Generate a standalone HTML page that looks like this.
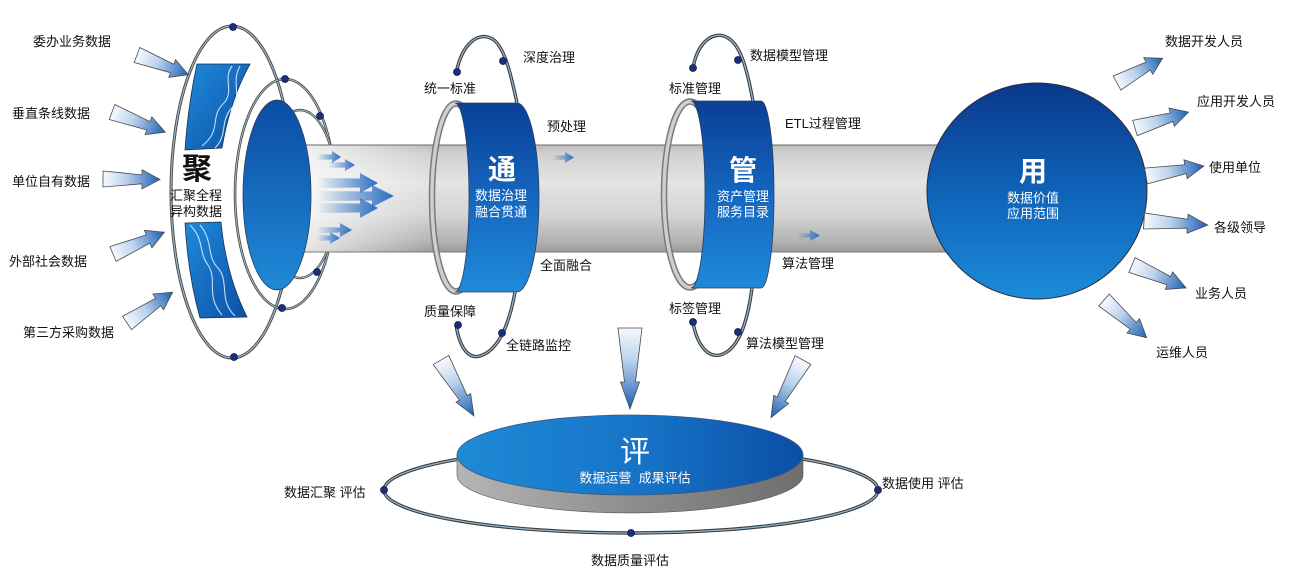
<!DOCTYPE html>
<html><head><meta charset="utf-8">
<style>
html,body{margin:0;padding:0;background:#fff;}
svg{display:block;}
.l{font-family:"Liberation Sans","Noto Sans CJK SC",sans-serif;font-size:13px;fill:#111;}
.w{font-family:"Liberation Sans","Noto Sans CJK SC",sans-serif;fill:#fff;text-anchor:middle;}
</style></head>
<body>
<svg width="1314" height="576" viewBox="0 0 1314 576" xmlns="http://www.w3.org/2000/svg">
<defs>
  <linearGradient id="pipe" x1="0" y1="0" x2="0" y2="1">
    <stop offset="0" stop-color="#bcbcbc"/>
    <stop offset="0.08" stop-color="#d0d0d0"/>
    <stop offset="0.35" stop-color="#e4e4e4"/>
    <stop offset="0.65" stop-color="#d5d5d5"/>
    <stop offset="0.9" stop-color="#b2b2b2"/>
    <stop offset="1" stop-color="#9a9a9a"/>
  </linearGradient>
  <linearGradient id="pipefade" x1="0" y1="0" x2="1" y2="0">
    <stop offset="0" stop-color="#fff" stop-opacity="0.75"/>
    <stop offset="1" stop-color="#fff" stop-opacity="0"/>
  </linearGradient>
  <linearGradient id="band" x1="0" y1="0" x2="0" y2="1">
    <stop offset="0" stop-color="#0b3f96"/>
    <stop offset="0.5" stop-color="#1566bf"/>
    <stop offset="1" stop-color="#1f8ad8"/>
  </linearGradient>
  <linearGradient id="disc" x1="0" y1="0" x2="0" y2="1">
    <stop offset="0" stop-color="#0c4ca4"/>
    <stop offset="1" stop-color="#1f8ad8"/>
  </linearGradient>
  <linearGradient id="ball" x1="0" y1="0" x2="0" y2="1">
    <stop offset="0" stop-color="#0a388a"/>
    <stop offset="0.5" stop-color="#0f62b8"/>
    <stop offset="1" stop-color="#1b8cd8"/>
  </linearGradient>
  <linearGradient id="evtop" x1="0" y1="0" x2="1" y2="0">
    <stop offset="0" stop-color="#1f8ad6"/>
    <stop offset="0.55" stop-color="#1673c6"/>
    <stop offset="1" stop-color="#0b4ea6"/>
  </linearGradient>
  <linearGradient id="evside" x1="0" y1="0" x2="1" y2="0">
    <stop offset="0" stop-color="#b5b5b5"/>
    <stop offset="0.5" stop-color="#8e8e8e"/>
    <stop offset="1" stop-color="#6e6e6e"/>
  </linearGradient>
  <linearGradient id="panel" x1="0" y1="0" x2="1" y2="1">
    <stop offset="0" stop-color="#1f8ad8"/>
    <stop offset="1" stop-color="#0c50a8"/>
  </linearGradient>
  <linearGradient id="arr" x1="0" y1="0" x2="1" y2="0">
    <stop offset="0" stop-color="#f6f9fd"/>
    <stop offset="0.4" stop-color="#bcd3ec"/>
    <stop offset="1" stop-color="#1c5fb6"/>
  </linearGradient>
  <linearGradient id="parr" x1="0" y1="0" x2="1" y2="0">
    <stop offset="0" stop-color="#3a7bc8" stop-opacity="0"/>
    <stop offset="1" stop-color="#2a6cc0"/>
  </linearGradient>
  <path id="a1" d="M0,-8 L39,-4.5 L39,-9.5 L57,0 L39,9.5 L39,4.5 L0,8 Z"/>
</defs>

<!-- left orbit ellipses -->
<g fill="none">
  <ellipse cx="232" cy="192" rx="61" ry="166" stroke="#444" stroke-width="3"/>
  <ellipse cx="232" cy="192" rx="61" ry="166" stroke="#9db6c9" stroke-width="1.2"/>
  <ellipse cx="285" cy="194" rx="50" ry="115" stroke="#444" stroke-width="2.6"/>
  <ellipse cx="285" cy="194" rx="50" ry="115" stroke="#a8bccc" stroke-width="1"/>
  <ellipse cx="300" cy="194" rx="37" ry="84" stroke="#444" stroke-width="2.4"/>
  <ellipse cx="300" cy="194" rx="37" ry="84" stroke="#a8bccc" stroke-width="1"/>
</g>

<!-- pipe -->
<rect x="303" y="145" width="645" height="107" fill="url(#pipe)"/>
<rect x="303" y="145" width="130" height="107" fill="url(#pipefade)"/>
<line x1="303" y1="145" x2="948" y2="145" stroke="#6a6a6a" stroke-width="1"/>
<line x1="303" y1="252" x2="948" y2="252" stroke="#7a7a7a" stroke-width="1"/>

<!-- orbit dots left -->
<g fill="#1a2f7a" stroke="#0d1a4a" stroke-width="0.8">
  <circle cx="233" cy="27" r="3.5"/>
  <circle cx="285" cy="79" r="3.5"/>
  <circle cx="320" cy="116" r="3.5"/>
  <circle cx="317" cy="272" r="3.5"/>
  <circle cx="282" cy="308" r="3.5"/>
  <circle cx="234" cy="357" r="3.5"/>
</g>

<!-- blue disc -->
<ellipse cx="277" cy="195" rx="34" ry="95" fill="url(#disc)" stroke="#2b3b55" stroke-width="0.8"/>

<!-- pipe arrows -->
<g fill="url(#parr)">
  <path d="M317,154 L332,154.5 L332,151 L341,157 L332,163 L332,159.5 L317,160 Z"/>
  <path d="M328,162 L345,162.5 L345,159 L355,165 L345,171 L345,167.5 L328,168 Z"/>
  <path d="M317,178 L360,178.5 L360,173 L378,183 L360,193 L360,187.5 L317,188 Z"/>
  <path d="M317,191 L372,191.5 L372,185 L394,196 L372,207 L372,200.5 L317,201 Z"/>
  <path d="M317,203 L360,203.5 L360,198 L378,208 L360,218 L360,212.5 L317,213 Z"/>
  <path d="M317,227 L340,227.5 L340,223 L352,230 L340,237 L340,232.5 L317,233 Z"/>
  <path d="M317,235 L330,235.5 L330,232 L340,238 L330,244 L330,240.5 L317,241 Z"/>
  <path d="M552,155 L565,155.5 L565,152 L574,157.5 L565,163 L565,159.5 L552,160 Z"/>
  <path d="M797,233 L810,233.5 L810,230 L820,235.5 L810,241 L810,237.5 L797,238 Z"/>
</g>

<!-- left panels -->
<path d="M197,64 L250,64 Q230,100 222,148 L185,150 Q188,105 197,64 Z" fill="url(#panel)" stroke="#1a3050" stroke-width="0.8"/>
<path d="M185,223 L221,222 Q226,275 247,317 L200,318 Q188,275 185,223 Z" fill="url(#panel)" stroke="#1a3050" stroke-width="0.8"/>
<g fill="none" stroke="#d6ecff" stroke-width="1.1" opacity="0.9">
  <path d="M232,66 C222,80 236,92 222,105 C210,118 222,130 202,146"/>
  <path d="M240,66 C230,84 244,96 230,110 C220,124 228,134 215,148"/>
  <path d="M190,225 C205,240 198,252 208,265 C218,280 205,295 222,315"/>
  <path d="M200,225 C214,242 206,256 218,268 C230,282 218,300 235,316"/>
</g>

<!-- 聚 text -->
<text x="197" y="179" font-family="Liberation Sans,'Noto Sans CJK SC',sans-serif" font-size="30" font-weight="bold" fill="#111" text-anchor="middle">聚</text>
<text x="196" y="200" class="l" text-anchor="middle">汇聚全程</text>
<text x="196" y="216" class="l" text-anchor="middle">异构数据</text>

<!-- 通 ring -->
<ellipse cx="456" cy="197.5" rx="24" ry="94" fill="none" stroke="#7a7a7a" stroke-width="6.5"/>
<ellipse cx="456" cy="197.5" rx="24" ry="94" fill="none" stroke="#cfcfcf" stroke-width="3.5"/>
<path d="M455,103 L517,103 A22,94.5 0 0 1 517,292 L455,292 A14,94.5 0 0 0 455,103 Z" fill="url(#band)" stroke="#26405f" stroke-width="0.8"/>
<text x="502" y="179" class="w" font-size="28" font-weight="bold">通</text>
<text x="501" y="200" class="w" font-size="13">数据治理</text>
<text x="501" y="216.5" class="w" font-size="13">融合贯通</text>

<!-- 管 ring -->
<ellipse cx="690" cy="194.5" rx="26" ry="93" fill="none" stroke="#7a7a7a" stroke-width="6.5"/>
<ellipse cx="690" cy="194.5" rx="26" ry="93" fill="none" stroke="#cfcfcf" stroke-width="3.5"/>
<path d="M691,101 L761,101 A13,93.5 0 0 1 761,288 L691,288 A14,93.5 0 0 0 691,101 Z" fill="url(#band)" stroke="#26405f" stroke-width="0.8"/>
<text x="743" y="180" class="w" font-size="28" font-weight="bold">管</text>
<text x="743" y="201" class="w" font-size="13">资产管理</text>
<text x="743" y="216.5" class="w" font-size="13">服务目录</text>

<!-- orbit arcs -->
<g fill="none">
  <g stroke="#3a3a3a" stroke-width="3.4">
    <path d="M456,74 C462,42 480,30 494,40 C506,50 512,80 517,103"/>
    <path d="M515,292 C510,320 500,350 480,356 C465,360 458,340 456,324"/>
    <path d="M693,68 C698,40 715,30 728,38 C742,46 748,75 753,101"/>
    <path d="M752,288 C748,318 740,350 720,355 C705,358 696,340 693,322"/>
  </g>
  <g stroke="#93b3ca" stroke-width="1.3">
    <path d="M456,74 C462,42 480,30 494,40 C506,50 512,80 517,103"/>
    <path d="M515,292 C510,320 500,350 480,356 C465,360 458,340 456,324"/>
    <path d="M693,68 C698,40 715,30 728,38 C742,46 748,75 753,101"/>
    <path d="M752,288 C748,318 740,350 720,355 C705,358 696,340 693,322"/>
  </g>
</g>
<g fill="#1a2f7a" stroke="#0d1a4a" stroke-width="0.8">
  <circle cx="457" cy="72" r="3.5"/>
  <circle cx="503" cy="61" r="3.5"/>
  <circle cx="458" cy="325" r="3.5"/>
  <circle cx="502" cy="333" r="3.5"/>
  <circle cx="693" cy="68" r="3.5"/>
  <circle cx="738" cy="60" r="3.5"/>
  <circle cx="693" cy="322" r="3.5"/>
  <circle cx="738" cy="332" r="3.5"/>
</g>

<!-- 用 ball -->
<ellipse cx="1037" cy="191" rx="110" ry="108" fill="url(#ball)" stroke="#2a2a3a" stroke-width="1"/>
<text x="1033" y="181" class="w" font-size="28" font-weight="bold">用</text>
<text x="1033" y="202.5" class="w" font-size="13">数据价值</text>
<text x="1033" y="218" class="w" font-size="13">应用范围</text>

<!-- side arrows -->
<g fill="url(#arr)" stroke="#4a4a4a" stroke-width="0.8">
  <use href="#a1" transform="translate(137,55) rotate(21) scale(0.965,1)"/>
  <use href="#a1" transform="translate(112,112) rotate(20.7)"/>
  <use href="#a1" transform="translate(103,179) rotate(0.5)"/>
  <use href="#a1" transform="translate(113,254) rotate(-23) scale(0.98,1)"/>
  <use href="#a1" transform="translate(127,323) rotate(-34) scale(0.965,1)"/>
  <use href="#a1" transform="translate(1117,83) rotate(-28.5) scale(0.91,1)"/>
  <use href="#a1" transform="translate(1135,128) rotate(-16.5) scale(0.98,1)"/>
  <use href="#a1" transform="translate(1146,176) rotate(-9.8) scale(1.03,1)"/>
  <use href="#a1" transform="translate(1144,221) rotate(3.6) scale(1.12,1)"/>
  <use href="#a1" transform="translate(1132,265) rotate(23) scale(1.03,1)"/>
  <use href="#a1" transform="translate(1104,300) rotate(41.5)"/>
  <path d="M0,-12 L54,-5.5 L54,-9.5 L81,0 L54,9.5 L54,5.5 L0,12 Z" transform="translate(630,328) rotate(90)"/>
  <path d="M0,-9 L44,-4.5 L44,-8.5 L65,0 L44,8.5 L44,4.5 L0,9 Z" transform="translate(441,360) rotate(59.5)"/>
  <path d="M0,-9 L45,-4.5 L45,-8.5 L66,0 L45,8.5 L45,4.5 L0,9 Z" transform="translate(803,360) rotate(119)"/>
</g>

<!-- 评 disc with orbit -->
<ellipse cx="631" cy="490" rx="247" ry="43" fill="none" stroke="#3a3a3a" stroke-width="3.4"/>
<ellipse cx="631" cy="490" rx="247" ry="43" fill="none" stroke="#93b3ca" stroke-width="1.3"/>
<path d="M457,455 L457,475 A173,38 0 0 0 803,475 L803,455 Z" fill="url(#evside)" stroke="#555" stroke-width="0.6"/>
<ellipse cx="630" cy="455" rx="173" ry="40" fill="url(#evtop)" stroke="#3a5a80" stroke-width="0.8"/>
<text x="635" y="462" class="w" font-size="30">评</text>
<text x="635" y="482.5" class="w" font-size="13">数据运营&#160;&#160;成果评估</text>
<g fill="#1a2f7a" stroke="#0d1a4a" stroke-width="0.8">
  <circle cx="384" cy="490" r="3.5"/>
  <circle cx="878" cy="490" r="3.5"/>
  <circle cx="631" cy="533" r="3.5"/>
</g>

<!-- labels -->
<g class="l">
  <text x="33" y="46">委办业务数据</text>
  <text x="12" y="118">垂直条线数据</text>
  <text x="12" y="186">单位自有数据</text>
  <text x="9" y="266">外部社会数据</text>
  <text x="23" y="337">第三方采购数据</text>
  <text x="523" y="62">深度治理</text>
  <text x="424" y="93">统一标准</text>
  <text x="547" y="131">预处理</text>
  <text x="540" y="270">全面融合</text>
  <text x="424" y="316">质量保障</text>
  <text x="506" y="350">全链路监控</text>
  <text x="750" y="60">数据模型管理</text>
  <text x="669" y="93">标准管理</text>
  <text x="785" y="128">ETL过程管理</text>
  <text x="782" y="268">算法管理</text>
  <text x="669" y="313">标签管理</text>
  <text x="746" y="348">算法模型管理</text>
  <text x="1165" y="46">数据开发人员</text>
  <text x="1197" y="106">应用开发人员</text>
  <text x="1209" y="172">使用单位</text>
  <text x="1214" y="232">各级领导</text>
  <text x="1195" y="298">业务人员</text>
  <text x="1156" y="357">运维人员</text>
  <text x="284" y="497">数据汇聚 评估</text>
  <text x="882" y="488">数据使用 评估</text>
  <text x="591" y="565">数据质量评估</text>
</g>
</svg>
</body></html>
